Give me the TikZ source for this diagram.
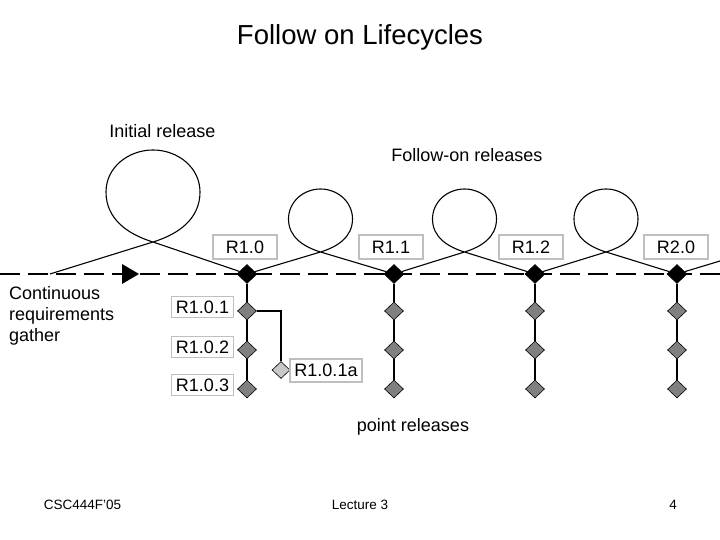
\documentclass[tikz,border=0pt]{standalone}
\usepackage{fontspec}
\setmainfont{Liberation Sans}
\usetikzlibrary{shapes.geometric,backgrounds}
\definecolor{boxgray}{HTML}{BFBFBF}
\definecolor{midgray}{HTML}{808080}
\definecolor{lightgray}{HTML}{C8C8C8}
\begin{document}
\begin{tikzpicture}[x=1pt,y=1pt,
  lbl/.style={font=\fontsize{18}{21}\selectfont},
  relbox/.style={lbl, draw=boxgray, line width=1.2pt, fill=white, inner sep=0pt, minimum width=64pt, minimum height=24pt},
  subbox/.style={lbl, draw=boxgray, line width=1.2pt, fill=white, inner sep=0pt, minimum width=62pt, minimum height=21pt},
  mainrel/.style={diamond, fill=black, draw=black, line width=0.6pt, minimum width=20pt, minimum height=19pt, inner sep=0pt},
  ptrel/.style={diamond, fill=midgray, draw=black, line width=0.6pt, minimum width=19pt, minimum height=18pt, inner sep=0pt},
  subrel/.style={diamond, fill=lightgray, draw=black, line width=0.6pt, minimum width=18pt, minimum height=17pt, inner sep=0pt},
  loopline/.style={line width=1.1pt},
  stem/.style={line width=2pt},
  dashline/.style={line width=2pt, dash pattern=on 20pt off 8pt},
  foot/.style={font=\fontsize{13.5}{15}\selectfont}
]
\useasboundingbox (0,0) rectangle (720,540);

% title and labels
\node[font=\fontsize{27.5}{32}\selectfont] (title) at (360,503) {Follow on Lifecycles};
\node[lbl] (initial) at (162.5,409) {Initial release};
\node[lbl] (follow) at (467,385) {Follow-on releases};
\node[lbl, align=left, anchor=north west, inner sep=0pt, font=\fontsize{18}{21}\selectfont] (cont) at (9,254) {Continuous\\requirements\\gather};
\node[lbl] (point) at (413,113) {point releases};

% main release diamonds
\node[mainrel] (d1) at (247,266) {};
\node[mainrel] (d2) at (394,266) {};
\node[mainrel] (d3) at (535,266) {};
\node[mainrel] (d4) at (677,266) {};

% point release diamonds
\foreach \c/\x in {1/247,2/394,3/535,4/677}{
  \node[ptrel] (p\c a) at (\x,229) {};
  \node[ptrel] (p\c b) at (\x,190) {};
  \node[ptrel] (p\c c) at (\x,151) {};
}
\node[subrel] (p1x) at (281,170) {};

% release boxes
\node[relbox] (r10) at (245,293) {R1.0};
\node[relbox] (r11) at (391,293) {R1.1};
\node[relbox] (r12) at (531,293) {R1.2};
\node[relbox] (r20) at (676,293) {R2.0};
\node[subbox] (r101) at (202.5,233) {R1.0.1};
\node[subbox] (r102) at (202.5,193) {R1.0.2};
\node[subbox] (r103) at (202.5,155) {R1.0.3};
\node[subbox, minimum width=72pt, minimum height=23pt] (r101a) at (326,169.5) {R1.0.1a};

% footer
\node[foot] (fl) at (82.5,35) {CSC444F'05};
\node[foot] (fc) at (360,35) {Lecture 3};
\node[foot] (fr) at (673,35) {4};

% coordinates
\coordinate (ls) at (0,266);
\coordinate (le) at (720,266);
\coordinate (s) at (50,266);
\coordinate (c0) at (153,298);
\coordinate (rr0) at (200,348);
\coordinate (t0) at (153,390);
\coordinate (ll0) at (106,348);
\foreach \k/\xc in {1/320.5,2/464.5,3/606}{
  \coordinate (c\k) at (\xc,288);
  \coordinate (rr\k) at (\xc+32,321);
  \coordinate (t\k) at (\xc,351);
  \coordinate (ll\k) at (\xc-32,321);
}
\coordinate (e) at (720,279);

\begin{scope}[on background layer]
  \draw[dashline] (ls) -- (le);
\end{scope}
\fill (122,276) -- (139,266) -- (122,256) -- cycle;

% loops
\draw[loopline] (s) -- (c0) to[out=17,in=-90] (rr0) to[out=90,in=0] (t0)
  to[out=180,in=90] (ll0) to[out=-90,in=163] (c0) -- (d1);
\draw[loopline] (d1) -- (c1) to[out=17,in=-90] (rr1) to[out=90,in=0] (t1)
  to[out=180,in=90] (ll1) to[out=-90,in=163] (c1) -- (d2);
\draw[loopline] (d2) -- (c2) to[out=17,in=-90] (rr2) to[out=90,in=0] (t2)
  to[out=180,in=90] (ll2) to[out=-90,in=163] (c2) -- (d3);
\draw[loopline] (d3) -- (c3) to[out=17,in=-90] (rr3) to[out=90,in=0] (t3)
  to[out=180,in=90] (ll3) to[out=-90,in=163] (c3) -- (d4);
\draw[loopline] (d4) -- (e);

% stems
\foreach \c in {1,2,3,4}{
  \draw[stem] (d\c) -- (p\c a);
  \draw[stem] (p\c a) -- (p\c b);
  \draw[stem] (p\c b) -- (p\c c);
}
\draw[stem] (p1a) -| (p1x);
\end{tikzpicture}
\end{document}
